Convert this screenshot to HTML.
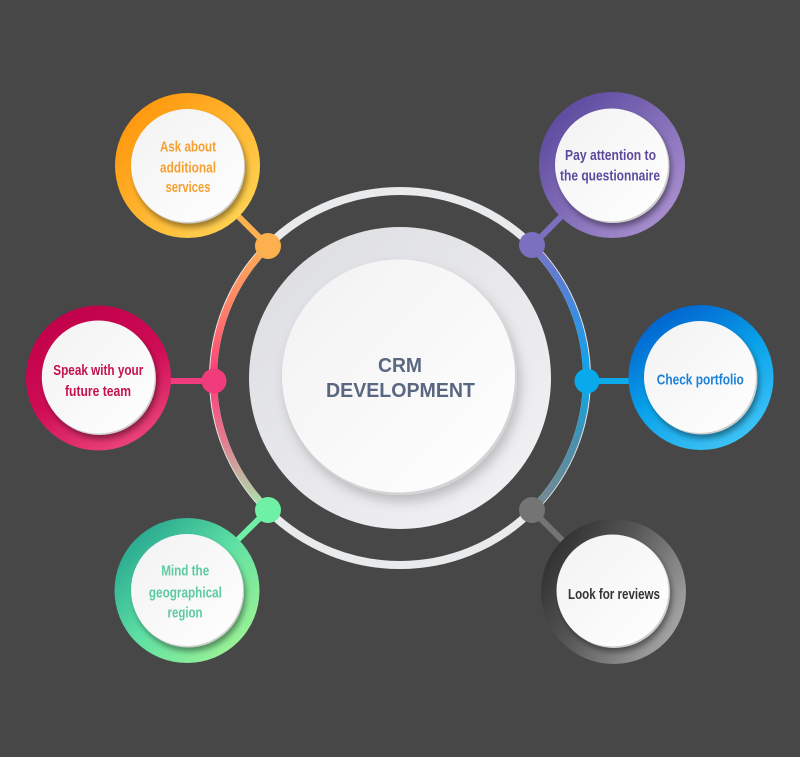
<!DOCTYPE html>
<html><head><meta charset="utf-8">
<style>
html,body{margin:0;padding:0;background:#474747;}
svg{display:block;}
.t{font-family:"Liberation Sans Narrow","Liberation Sans",sans-serif;font-weight:bold;font-size:15px;text-anchor:middle;}
.c{font-family:"Liberation Sans","DejaVu Sans",sans-serif;font-weight:bold;font-size:20px;fill:#5a6780;text-anchor:middle;}
</style></head>
<body>
<svg width="800" height="757" viewBox="0 0 800 757" xmlns="http://www.w3.org/2000/svg">
<defs>
  <linearGradient id="gOr" x1="0" y1="0" x2="1" y2="1"><stop offset="0" stop-color="#ff8d00"/><stop offset="1" stop-color="#ffdc5e"/></linearGradient>
  <linearGradient id="gPu" x1="0" y1="0" x2="1" y2="1"><stop offset="0" stop-color="#4f3f98"/><stop offset="1" stop-color="#b59ad6"/></linearGradient>
  <linearGradient id="gPk" x1="0.3" y1="0" x2="0.8" y2="1"><stop offset="0" stop-color="#c1004a"/><stop offset="0.5" stop-color="#cf0d55"/><stop offset="1" stop-color="#ef4a80"/></linearGradient>
  <linearGradient id="gBl" x1="0.2" y1="0" x2="0.8" y2="1"><stop offset="0" stop-color="#005ccc"/><stop offset="0.5" stop-color="#0aa2ea"/><stop offset="1" stop-color="#45c8f7"/></linearGradient>
  <linearGradient id="gGr" x1="0" y1="0" x2="1" y2="1"><stop offset="0" stop-color="#17968a"/><stop offset="0.5" stop-color="#5ee0a4"/><stop offset="1" stop-color="#b0f890"/></linearGradient>
  <linearGradient id="gGy" x1="0" y1="0" x2="1" y2="0.6"><stop offset="0" stop-color="#222"/><stop offset="0.5" stop-color="#555"/><stop offset="1" stop-color="#a0a0a0"/></linearGradient>
  <linearGradient id="arcL" gradientUnits="userSpaceOnUse" x1="0" y1="246" x2="0" y2="510">
    <stop offset="0" stop-color="#ffad55"/><stop offset="0.25" stop-color="#ff7e6a"/><stop offset="0.5" stop-color="#ff3a78"/><stop offset="0.75" stop-color="#e08090"/><stop offset="1" stop-color="#a8eab0"/>
  </linearGradient>
  <linearGradient id="arcR" gradientUnits="userSpaceOnUse" x1="0" y1="246" x2="0" y2="510">
    <stop offset="0" stop-color="#7a70c4"/><stop offset="0.25" stop-color="#3d8ce0"/><stop offset="0.5" stop-color="#08a8ec"/><stop offset="0.75" stop-color="#4a90ac"/><stop offset="1" stop-color="#7a8890"/>
  </linearGradient>
  <linearGradient id="bigG" x1="0" y1="0" x2="1" y2="1"><stop offset="0" stop-color="#dcdde1"/><stop offset="1" stop-color="#f3f3f5"/></linearGradient>
  <linearGradient id="whG" x1="0" y1="0" x2="1" y2="1"><stop offset="0" stop-color="#f2f2f3"/><stop offset="1" stop-color="#ffffff"/></linearGradient>
  <filter id="sh" x="-30%" y="-30%" width="160%" height="160%"><feDropShadow dx="2" dy="4" stdDeviation="3" flood-color="#000" flood-opacity="0.4"/></filter>
  <filter id="shB" x="-30%" y="-30%" width="160%" height="160%"><feDropShadow dx="3" dy="6" stdDeviation="6" flood-color="#000" flood-opacity="0.22"/></filter>
</defs>

<!-- outer ring -->
<circle cx="400" cy="378" r="187" fill="none" stroke="#e9eaeb" stroke-width="8"/>
<path d="M268,246 A187 187 0 0 0 268,510" fill="none" stroke="url(#arcL)" stroke-width="7"/>
<path d="M532,246 A187 187 0 0 1 532,510" fill="none" stroke="url(#arcR)" stroke-width="7"/>

<!-- connectors -->
<line x1="268" y1="246" x2="188" y2="166" stroke="#fdb04e" stroke-width="6"/>
<line x1="532" y1="246" x2="612" y2="165" stroke="#7b6fbf" stroke-width="6"/>
<line x1="213" y1="381" x2="99" y2="381" stroke="#f03c7a" stroke-width="6"/>
<line x1="587" y1="381" x2="701" y2="381" stroke="#0aaaeb" stroke-width="6"/>
<line x1="268" y1="510" x2="187" y2="590" stroke="#6ef0a6" stroke-width="6"/>
<line x1="532" y1="510" x2="613" y2="591" stroke="#747474" stroke-width="6"/>

<!-- dots -->
<circle cx="268" cy="246" r="13" fill="#fdb04e"/>
<circle cx="532" cy="245" r="13" fill="#7b6fbf"/>
<circle cx="214" cy="381" r="12.5" fill="#f03c7a"/>
<circle cx="587" cy="381" r="12.5" fill="#08aaeb"/>
<circle cx="268" cy="510" r="13" fill="#6ef0a6"/>
<circle cx="532" cy="510" r="13" fill="#747474"/>

<!-- big center -->
<circle cx="400" cy="378" r="151" fill="url(#bigG)"/>
<circle cx="400" cy="378" r="117" fill="#d4d4d6" filter="url(#shB)"/>
<circle cx="398.5" cy="376" r="116.5" fill="url(#whG)"/>
<text class="c" x="400" y="372" textLength="44" lengthAdjust="spacingAndGlyphs">CRM</text>
<text class="c" x="400.5" y="397" textLength="149" lengthAdjust="spacingAndGlyphs">DEVELOPMENT</text>

<!-- satellites -->
<g>
  <circle cx="187.5" cy="165.5" r="72.5" fill="url(#gOr)"/>
  <circle cx="188.5" cy="167" r="56.5" fill="#cfcfcf" filter="url(#sh)"/>
  <circle cx="187.5" cy="165.5" r="56.5" fill="url(#whG)"/>
  <text class="t" fill="#f6a030" x="188" y="151.5" textLength="56" lengthAdjust="spacingAndGlyphs">Ask about</text>
  <text class="t" fill="#f6a030" x="188" y="172.3" textLength="56" lengthAdjust="spacingAndGlyphs">additional</text>
  <text class="t" fill="#f6a030" x="188" y="192" textLength="45" lengthAdjust="spacingAndGlyphs">services</text>
</g>
<g>
  <circle cx="612" cy="165" r="73" fill="url(#gPu)"/>
  <circle cx="613" cy="166.5" r="56.5" fill="#cfcfcf" filter="url(#sh)"/>
  <circle cx="611.5" cy="165" r="56.5" fill="url(#whG)"/>
  <text class="t" fill="#5b4a9e" x="610.5" y="160" textLength="91" lengthAdjust="spacingAndGlyphs">Pay attention to</text>
  <text class="t" fill="#5b4a9e" x="610" y="180.7" textLength="100" lengthAdjust="spacingAndGlyphs">the questionnaire</text>
</g>
<g>
  <circle cx="98.5" cy="378" r="72.5" fill="url(#gPk)"/>
  <circle cx="99.5" cy="378.5" r="56.5" fill="#cfcfcf" filter="url(#sh)"/>
  <circle cx="98.3" cy="377" r="56.5" fill="url(#whG)"/>
  <text class="t" fill="#c4124f" x="98.3" y="375" textLength="90" lengthAdjust="spacingAndGlyphs">Speak with your</text>
  <text class="t" fill="#c4124f" x="98" y="396" textLength="66" lengthAdjust="spacingAndGlyphs">future team</text>
</g>
<g>
  <circle cx="701" cy="377.5" r="72.5" fill="url(#gBl)"/>
  <circle cx="701.5" cy="378.5" r="56" fill="#cfcfcf" filter="url(#sh)"/>
  <circle cx="700" cy="377" r="56" fill="url(#whG)"/>
  <text class="t" fill="#1b80d8" x="700.3" y="384.5" textLength="87" lengthAdjust="spacingAndGlyphs">Check portfolio</text>
</g>
<g>
  <circle cx="187" cy="590.5" r="72.5" fill="url(#gGr)"/>
  <circle cx="188" cy="591.5" r="56" fill="#cfcfcf" filter="url(#sh)"/>
  <circle cx="187" cy="590" r="56" fill="url(#whG)"/>
  <text class="t" fill="#5ccb9e" x="185.2" y="575.7" textLength="48" lengthAdjust="spacingAndGlyphs">Mind the</text>
  <text class="t" fill="#5ccb9e" x="185.4" y="597.3" textLength="73" lengthAdjust="spacingAndGlyphs">geographical</text>
  <text class="t" fill="#5ccb9e" x="185" y="617.7" textLength="35" lengthAdjust="spacingAndGlyphs">region</text>
</g>
<g>
  <circle cx="613.5" cy="591.5" r="72.5" fill="url(#gGy)"/>
  <circle cx="614" cy="592" r="56" fill="#cfcfcf" filter="url(#sh)"/>
  <circle cx="612.5" cy="590.5" r="56" fill="url(#whG)"/>
  <text class="t" fill="#333333" x="614" y="599" textLength="92" lengthAdjust="spacingAndGlyphs">Look for reviews</text>
</g>
</svg>
</body></html>
